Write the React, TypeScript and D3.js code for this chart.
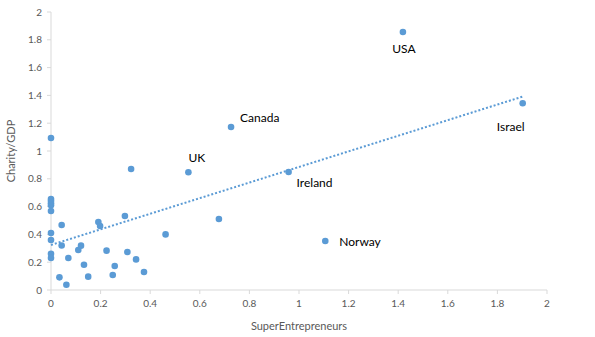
import React from "react";
import * as d3 from "d3";

const xValues: number[] = [
  0, 0, 0, 0, 0, 0, 0, 0, 0, 0,
  0.043, 0.043, 0.034, 0.062, 0.07, 0.11, 0.121, 0.133, 0.15, 0.191,
  0.198, 0.224, 0.257, 0.249, 0.298, 0.308, 0.343, 0.375, 0.462, 0.323, 0.677,
  1.419, 0.726, 0.554, 0.958, 1.106, 1.902,
];
const yValues: number[] = [
  1.094, 0.655, 0.64, 0.624, 0.61, 0.568, 0.41, 0.36, 0.26, 0.23,
  0.468, 0.32, 0.091, 0.038, 0.23, 0.288, 0.319, 0.182, 0.096, 0.489,
  0.46, 0.283, 0.173, 0.108, 0.532, 0.273, 0.22, 0.13, 0.4, 0.871, 0.511,
  1.856, 1.173, 0.847, 0.849, 0.353, 1.343,
];
const pointLabels: string[] = [
  "", "", "", "", "", "", "", "", "", "",
  "", "", "", "", "", "", "", "", "", "",
  "", "", "", "", "", "", "", "", "", "", "",
  "USA", "Canada", "UK", "Ireland", "Norway", "Israel",
];
const xTicks: number[] = [0, 0.2, 0.4, 0.6, 0.8, 1, 1.2, 1.4, 1.6, 1.8, 2];
const yTicks: number[] = [0, 0.2, 0.4, 0.6, 0.8, 1, 1.2, 1.4, 1.6, 1.8, 2];
const xTitle = "SuperEntrepreneurs";
const yTitle = "Charity/GDP";

// label placement relative to point (dx, dy, anchor)
const labelOffsets: Record<string, [number, number, string]> = {
  USA: [1, 21, "middle"],
  Canada: [9, -5, "start"],
  UK: [0, -10, "start"],
  Ireland: [8, 15, "start"],
  Norway: [14, 5, "start"],
  Israel: [-12, 28, "middle"],
};

const W = 595;
const H = 337;
const left = 51;
const right = 547;
const top = 12;
const bottom = 290;
const blue = "#5B9BD5";
const font = "Lato, 'Open Sans', sans-serif";

export default function App() {
  const x = d3.scaleLinear().domain([0, 2]).range([left, right]);
  const y = d3.scaleLinear().domain([0, 2]).range([bottom, top]);

  const n = xValues.length;
  const mx = d3.mean(xValues) as number;
  const my = d3.mean(yValues) as number;
  let sxy = 0;
  let sxx = 0;
  for (let i = 0; i < n; i++) {
    sxy += (xValues[i] - mx) * (yValues[i] - my);
    sxx += (xValues[i] - mx) ** 2;
  }
  const slope = sxy / sxx;
  const intercept = my - slope * mx;
  const xMin = d3.min(xValues) as number;
  const xMax = d3.max(xValues) as number;
  const trend = d3.line<number>()
    .x((d) => x(d))
    .y((d) => y(intercept + slope * d))([xMin, xMax]);

  return (
    <svg width={W} height={H} style={{ position: "absolute", left: 0, top: 0, background: "#fff" }}>
      <rect x={0} y={0} width={W} height={H} fill="#fff" />
      {/* axes */}
      <line x1={left} x2={left} y1={top} y2={bottom} stroke="#d9d9d9" strokeWidth={1} />
      <line x1={left} x2={right} y1={bottom} y2={bottom} stroke="#d9d9d9" strokeWidth={1} />
      {yTicks.map((t) => (
        <g key={"y" + t}>
          <line x1={left - 4} x2={left} y1={y(t)} y2={y(t)} stroke="#d9d9d9" />
          <text x={left - 9} y={y(t)} dy="0.35em" textAnchor="end" fontSize={10} fill="#595959" fontFamily={font}>
            {t}
          </text>
        </g>
      ))}
      {xTicks.map((t) => (
        <g key={"x" + t}>
          <line x1={x(t)} x2={x(t)} y1={bottom} y2={bottom + 4} stroke="#d9d9d9" />
          <text x={x(t)} y={bottom + 17} textAnchor="middle" fontSize={10} fill="#595959" fontFamily={font}>
            {t}
          </text>
        </g>
      ))}
      <text x={(left + right) / 2} y={330} textAnchor="middle" fontSize={11} fill="#595959" fontFamily={font}>
        {xTitle}
      </text>
      <text transform={`translate(15, ${(top + bottom) / 2}) rotate(-90)`} textAnchor="middle" fontSize={11} fill="#595959" fontFamily={font}>
        {yTitle}
      </text>
      {/* points */}
      {xValues.map((xv, i) => (
        <circle key={"p" + i} cx={x(xv)} cy={y(yValues[i])} r={3.3} fill={blue} />
      ))}
      {/* trendline */}
      <path d={trend || ""} fill="none" stroke={blue} strokeWidth={2} strokeDasharray="2 2" />
      {/* labels */}
      {pointLabels.map((lab, i) => {
        if (!lab) return null;
        const [dx, dy, anchor] = labelOffsets[lab];
        return (
          <text key={"l" + i} x={x(xValues[i]) + dx} y={y(yValues[i]) + dy} textAnchor={anchor as any} fontSize={12} fill="#000" fontFamily={font}>
            {lab}
          </text>
        );
      })}
    </svg>
  );
}
